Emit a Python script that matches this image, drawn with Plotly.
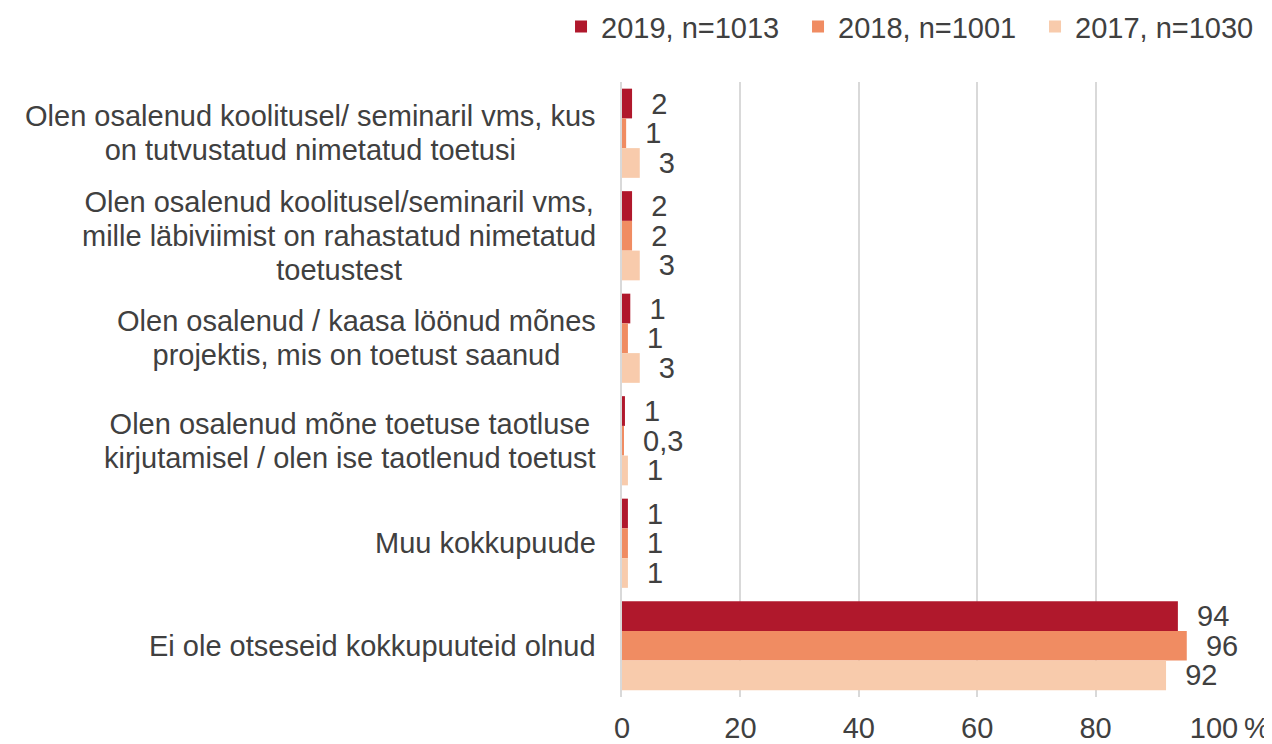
import plotly.graph_objects as go

categories = [
    "Olen osalenud koolitusel/ seminaril vms, kus<br>on tutvustatud nimetatud toetusi",
    "Olen osalenud koolitusel/seminaril vms,<br>mille läbiviimist on rahastatud nimetatud<br>toetustest",
    "Olen osalenud / kaasa löönud mõnes<br>projektis, mis on toetust saanud",
    "Olen osalenud mõne toetuse taotluse<br>kirjutamisel / olen ise taotlenud toetust",
    "Muu kokkupuude",
    "Ei ole otseseid kokkupuuteid olnud",
]
series_names = ["2019, n=1013", "2018, n=1001", "2017, n=1030"]
values_2019 = [1.7, 1.7, 1.4, 0.5, 1.0, 93.9]
values_2018 = [0.7, 1.7, 1.0, 0.3, 1.0, 95.4]
values_2017 = [3.0, 3.0, 3.0, 1.0, 1.0, 91.9]
labels_2019 = ["2", "2", "1", "1", "1", "94"]
labels_2018 = ["1", "2", "1", "0,3", "1", "96"]
labels_2017 = ["3", "3", "3", "1", "1", "92"]
colors = ["#B0182C", "#F08C62", "#F8CBAC"]
tick_vals = [0, 20, 40, 60, 80, 100]
tick_text = ["0", "20", "40", "60", "80", "100"]

FONT = "Liberation Sans, Arial, sans-serif"
TXT = "#404040"
FS = 29

fig = go.Figure()
for name, vals, labs, col in zip(series_names,
                                 [values_2019, values_2018, values_2017],
                                 [labels_2019, labels_2018, labels_2017],
                                 colors):
    fig.add_trace(go.Bar(
        name=name, y=categories, x=vals, orientation="h",
        marker=dict(color=col, line=dict(width=0)),
        text=["\u00a0\u00a0" + t for t in labs],
        textposition="outside", constraintext="none", cliponaxis=False,
        textfont=dict(family=FONT, size=FS, color=TXT),
        hoverinfo="skip",
    ))

# category labels: tighter line pitch than plotly's default 1.3em
for c in categories:
    styled = "<br>".join('<span style="font-size:%dpx">%s</span>' % (FS, ln)
                         for ln in c.split("<br>"))
    fig.add_annotation(
        x=0, xref="paper", y=c, yref="y", xanchor="right", yanchor="middle",
        xshift=-24, text=styled, align="center", showarrow=False,
        font=dict(family=FONT, size=26, color=TXT),
    )

fig.add_annotation(
    x=100, xref="x", y=0, yref="paper", xanchor="left", yanchor="middle",
    xshift=28, yshift=-31, text="%", showarrow=False,
    font=dict(family=FONT, size=FS, color=TXT),
)

# the page body adds an 8px offset, so the figure is 8px smaller each way
fig.update_layout(
    width=1264, height=736,
    margin=dict(l=614, r=58, t=74, b=47, autoexpand=False),
    paper_bgcolor="white", plot_bgcolor="white",
    barmode="group", bargap=0.13, bargroupgap=0,
    font=dict(family=FONT, size=FS, color=TXT),
    showlegend=True,
    legend=dict(
        orientation="h", xref="paper", yref="paper",
        x=-0.103, y=1.09, xanchor="left", yanchor="middle",
        font=dict(family=FONT, size=FS, color=TXT),
        itemwidth=30, tracegroupgap=0, entrywidth=192,
    ),
)
fig.update_xaxes(
    range=[0, 100], tickvals=tick_vals, ticktext=tick_text,
    showgrid=True, gridcolor="#D9D9D9", gridwidth=1.5,
    zeroline=False, showline=False, ticks="",
    ticklabelstandoff=11,
    tickfont=dict(family=FONT, size=FS, color=TXT),
)
fig.update_yaxes(
    autorange="reversed", showticklabels=False, showgrid=False,
    showline=True, linecolor="#D9D9D9", linewidth=2, ticks="",
)

fig.write_html("out.html")
